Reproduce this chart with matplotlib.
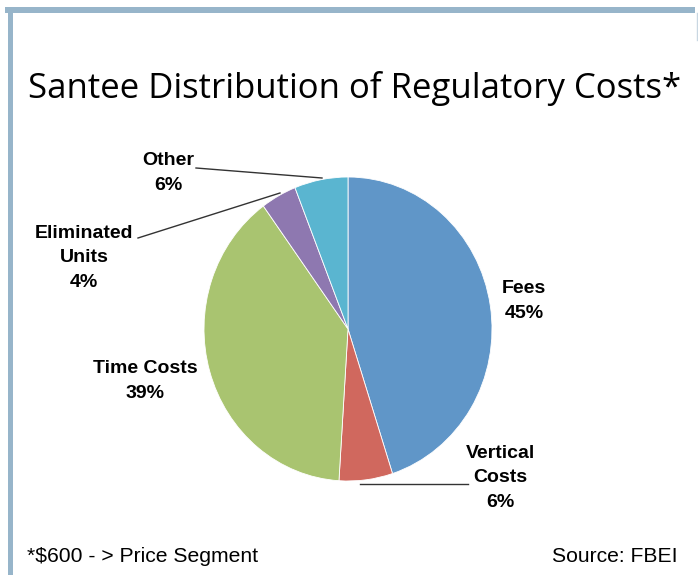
import matplotlib.pyplot as plt
from matplotlib.patches import Rectangle

# pie data
labels = ['Fees', 'Vertical\nCosts', 'Time Costs', 'Eliminated\nUnits', 'Other']
shares = [45, 6, 39, 4, 6]
colors = ['#6096c8', '#d0685e', '#a9c470', '#8e78b0', '#5ab5d0']

W, H = 698, 575
fig = plt.figure(figsize=(W/100, H/100), dpi=100)
ax = fig.add_axes([0, 0, 1, 1])
ax.set_xlim(0, W)
ax.set_ylim(0, H)
ax.axis('off')

# pie gets its own axes (slightly taller than wide, like the original)
x0, x1, y0, y1 = 204, 492, 177, 481
pax = fig.add_axes([x0/W, 1 - y1/H, (x1 - x0)/W, (y1 - y0)/H])
pax.pie(shares, colors=colors, startangle=90, counterclock=False,
        radius=1, wedgeprops=dict(edgecolor='white', linewidth=0.6))
pax.set_aspect('auto')
pax.set_xlim(-1, 1)
pax.set_ylim(-1, 1)
pax.axis('off')

# frame
edge = '#97b5ca'
ax.add_patch(Rectangle((5, H - 13), 690, 6, color=edge, lw=0))
ax.add_patch(Rectangle((8, 0), 5, H - 7, color=edge, lw=0))
ax.plot([696.5, 696.5], [H - 40, H - 13], color='#c9d7e2', lw=1)

ax.text(355, H - 88, 'Santee Distribution of Regulatory Costs*',
        ha='center', va='center', fontsize=25, family='Open Sans')

# labels with value text
pos = [(524, 301), (500, 478), (145, 381), (84, 258), (168, 173)]
for lab, val, (x, y) in zip(labels, shares, pos):
    ax.text(x, H - y, '%s\n%d%%' % (lab, val), ha='center', va='center',
            fontsize=14, fontweight='bold', family='Liberation Sans',
            linespacing=1.6)

# leader lines
ax.plot([360, 468], [H - 484, H - 484], color='#333333', lw=1)
ax.plot([196, 322], [H - 168, H - 178], color='#333333', lw=1)
ax.plot([138, 280], [H - 238, H - 193], color='#333333', lw=1)

ax.text(27, H - 557, '*$600 - > Price Segment', ha='left', va='center',
        fontsize=15.2, family='Liberation Sans')
ax.text(677, H - 557, 'Source: FBEI', ha='right', va='center',
        fontsize=15.2, family='Liberation Sans')

fig.savefig('out.png', dpi=100)
